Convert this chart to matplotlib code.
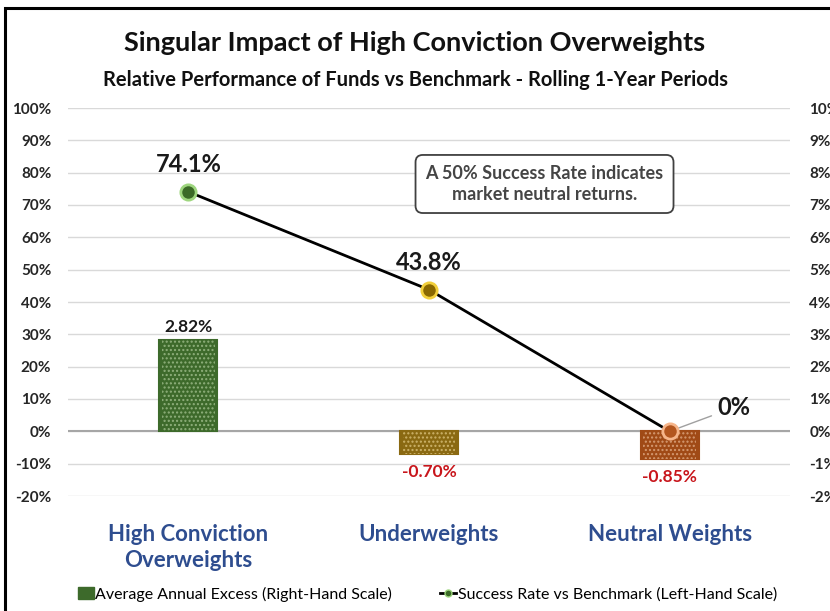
import matplotlib.pyplot as plt
from matplotlib.patches import Rectangle
from matplotlib.lines import Line2D
from matplotlib.patches import Patch
from matplotlib.ticker import FuncFormatter

plt.rcParams['font.family'] = ['Lato', 'DejaVu Sans']

# data
categories = ['High Conviction\nOverweights', 'Underweights', 'Neutral Weights']
excess = [2.82, -0.70, -0.85]          # right-hand scale, %
success = [74.1, 43.8, 0.0]            # left-hand scale, %
bar_colors = ['#3d6a2b', '#8a6912', '#a04a16']
hatch_colors = ['#8fb07c', '#cdb36a', '#d59a72']
marker_face = ['#3b6a27', '#8a6800', '#b3561f']
marker_edge = ['#9ed67e', '#f2cf3a', '#f6b58a']

fig = plt.figure(figsize=(8.3, 6.11), dpi=100)
ax = fig.add_axes([68 / 830, 1 - 496 / 611, 722 / 830, 388 / 611])
ax2 = ax.twinx()
ax.set_zorder(ax2.get_zorder() + 1)
ax.patch.set_visible(False)

x = range(len(categories))

# bars (right scale)
ax2.bar(x, excess, width=0.24, color=bar_colors, edgecolor=bar_colors, linewidth=1.5, zorder=3)
for i, v in enumerate(excess):
    ax2.bar(i, v, width=0.22, color='none', edgecolor=hatch_colors[i], hatch='....', linewidth=0, zorder=4)
    if v >= 0:
        ax2.annotate(f'{v:.2f}%', (i, v), xytext=(0, 4), textcoords='offset points',
                     ha='center', va='bottom', fontsize=12.5, fontweight='bold', color='#1a1a1a')
    else:
        ax2.annotate(f'{v:.2f}%', (i, v), xytext=(0, -7), textcoords='offset points',
                     ha='center', va='top', fontsize=12.5, fontweight='bold', color='#c8151b')

ax2.set_ylim(-2, 10)
ax2.set_yticks(range(-2, 11))
ax2.yaxis.set_major_formatter(FuncFormatter(lambda v, p: f'{v:.0f}%'))
ax2.grid(axis='y', color='#d9d9d9', linewidth=1)
ax2.set_axisbelow(True)
ax2.axhline(0, color='#a6a6a6', linewidth=1.5, zorder=2)

# line (left scale)
ax.plot(x, success, color='black', linewidth=2, zorder=5)
for i, v in enumerate(success):
    ax.plot(i, v, 'o', markersize=11, markerfacecolor=marker_face[i],
            markeredgecolor=marker_edge[i], markeredgewidth=2, zorder=6)
ax.annotate(f'{success[0]:.1f}%', (0, success[0]), xytext=(0, 11), textcoords='offset points',
            ha='center', va='bottom', fontsize=17, fontweight='bold', color='#1a1a1a')
ax.annotate(f'{success[1]:.1f}%', (1, success[1]), xytext=(0, 11), textcoords='offset points',
            ha='center', va='bottom', fontsize=17, fontweight='bold', color='#1a1a1a')
ax.annotate(f'{success[2]:.0f}%', (2, success[2]), xytext=(34, 17), textcoords='offset points',
            ha='left', va='center', fontsize=17, fontweight='bold', color='#1a1a1a',
            arrowprops=dict(arrowstyle='-', color='#a0a0a0', lw=1, shrinkA=2, shrinkB=0))

ax.set_ylim(-20, 100)
ax.set_xlim(-0.5, 2.5)
ax.set_yticks(range(-20, 101, 10))
ax.yaxis.set_major_formatter(FuncFormatter(lambda v, p: f'{v:.0f}%'))
ax.set_xticks(list(x))

for a in (ax, ax2):
    for s in a.spines.values():
        s.set_visible(False)
    a.tick_params(length=0, labelsize=11, labelcolor='#262626')
    for lab in a.get_yticklabels():
        lab.set_fontweight('bold')
ax.tick_params(axis='y', pad=12)
ax2.tick_params(axis='y', pad=14)
ax.tick_params(axis='x', pad=20)
ax.set_xticklabels(categories, fontsize=16, fontweight='bold', color='#2e4d8f', linespacing=1.3)

# note box
ax.text(1.48, 76.5, 'A 50% Success Rate indicates\nmarket neutral returns.', ha='center', va='center',
        fontsize=13, fontweight='bold', color='#454545', linespacing=1.3,
        bbox=dict(boxstyle='round,pad=0.55,rounding_size=0.4', facecolor='white',
                  edgecolor='#404040', linewidth=1.3))

# titles
fig.text(0.5, 1 - 43 / 611, 'Singular Impact of High Conviction Overweights', ha='center', va='center',
         fontsize=19.5, fontweight='bold', color='#111111')
fig.text(0.5, 1 - 80 / 611, 'Relative Performance of Funds vs Benchmark - Rolling 1-Year Periods',
         ha='center', va='center', fontsize=14.5, fontweight='bold', color='#111111')

# legend
handles = [Patch(facecolor=bar_colors[0], edgecolor=bar_colors[0], hatch='....'),
           Line2D([0], [0], color='black', linewidth=2, marker='o', markersize=5,
                  markerfacecolor=marker_face[0], markeredgecolor=marker_edge[0])]
fig.legend(handles, ['Average Annual Excess (Right-Hand Scale)', 'Success Rate vs Benchmark (Left-Hand Scale)'],
           loc='center', bbox_to_anchor=(0.515, 1 - 594 / 611), ncol=2, frameon=False,
           fontsize=11.5, handlelength=1.0, handletextpad=0.1, columnspacing=3.0)

# outer frame
fig.add_artist(Rectangle((5 / 830, -0.1), 1.2, 1 - 8 / 611 + 0.1, transform=fig.transFigure,
                         fill=False, edgecolor='black', linewidth=2.2))

plt.savefig('out.png', dpi=100)
